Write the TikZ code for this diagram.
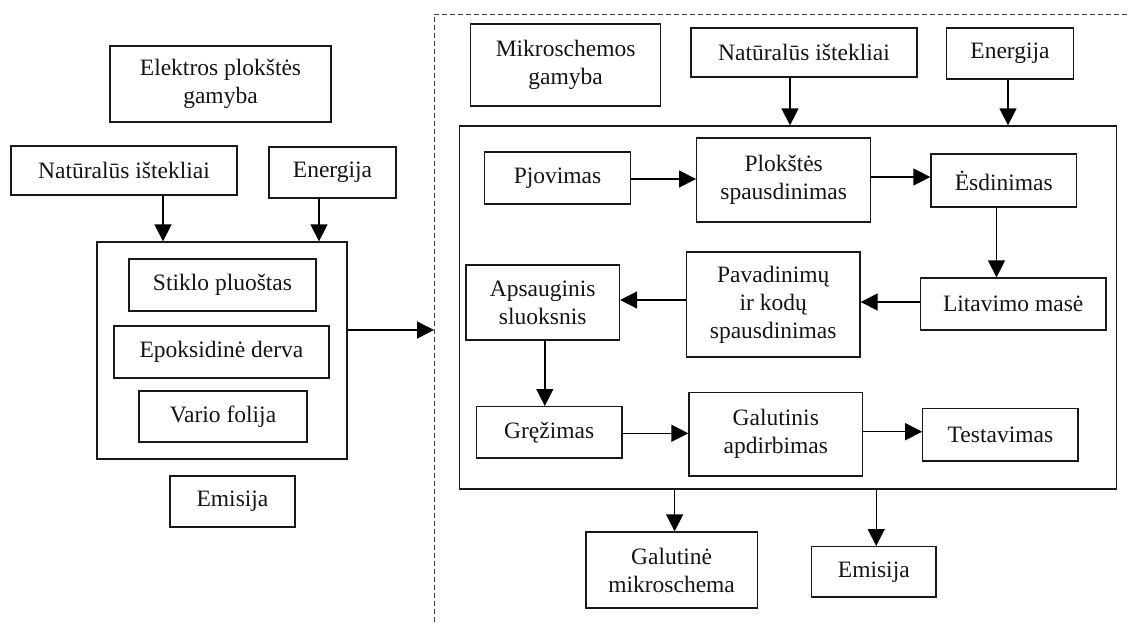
\documentclass[tikz,border=0pt]{standalone}
\usepackage{fontspec}
\setmainfont{Liberation Serif}
\usetikzlibrary{arrows.meta}
\begin{document}
\begin{tikzpicture}[x=1pt,y=-1pt,
  box/.style={draw=black!90,line width=1.3pt,align=center,inner sep=0pt,text=black!92,
    font=\fontsize{23.5}{28}\selectfont},
  arr/.style={draw=black,line width=1.4pt,-{Triangle[length=17pt,width=17pt]}},
  dline/.style={draw=black!75,line width=1pt,dash pattern=on 5pt off 3pt}]
\useasboundingbox (0,0) rectangle (1129,622);
% dashed frame
\coordinate (dtop) at (434,14);
\coordinate (dbot) at (434,622);
\coordinate (dright) at (1129,14);
\draw[dline] (dbot) -- (dtop) -- (dright);
% left part
\node[box,minimum width=221,minimum height=76] (elek) at (220.5,84) {Elektros plokštės\\gamyba};
\node[box,minimum width=226,minimum height=49] (nat1) at (124,170.5) {Natūralūs ištekliai};
\node[box,minimum width=127,minimum height=51] (en1) at (332.5,172.5) {Energija};
\node[box,minimum width=250,minimum height=217] (cont1) at (222,350.5) {};
\node[box,minimum width=187,minimum height=52] (stik) at (222.5,285) {Stiklo pluoštas};
\node[box,minimum width=215,minimum height=52] (epo) at (221.5,352) {Epoksidinė derva};
\node[box,minimum width=168,minimum height=51] (vario) at (223,416.5) {Vario folija};
\node[box,minimum width=125,minimum height=51] (emi1) at (232.5,501.5) {Emisija};
\coordinate (xa) at (163,0);
\coordinate (xb) at (319,0);
\coordinate (yc) at (0,330);
\draw[arr] (nat1.south -| xa) -- (cont1.north -| xa);
\draw[arr] (en1.south -| xb) -- (cont1.north -| xb);
\draw[arr] (cont1.east |- yc) -- (dtop |- yc);
% right part
\node[box,minimum width=190,minimum height=82] (mik) at (565.6,65) {Mikroschemos\\gamyba};
\node[box,minimum width=226,minimum height=49] (nat2) at (804,52.5) {Natūralūs ištekliai};
\node[box,minimum width=127,minimum height=51] (en2) at (1010,53.5) {Energija};
\node[box,minimum width=657.5,minimum height=363] (cont2) at (788,307.5) {};
\node[box,minimum width=145.6,minimum height=52] (pjo) at (557.5,178) {Pjovimas};
\node[box,minimum width=174,minimum height=84] (plo) at (783.7,180) {Plokštės\\spausdinimas};
\node[box,minimum width=145.6,minimum height=53] (esd) at (1003.8,180.5) {Ėsdinimas};
\node[box,minimum width=185.5,minimum height=52] (lit) at (1013.2,304) {Litavimo masė};
\node[box,minimum width=173.7,minimum height=105] (pav) at (773.2,304.5) {Pavadinimų\\ir kodų\\spausdinimas};
\node[box,minimum width=153.4,minimum height=75] (aps) at (542.7,302.5) {Apsauginis\\sluoksnis};
\node[box,minimum width=145.5,minimum height=51.3] (gre) at (549.2,432.3) {Gręžimas};
\node[box,minimum width=173.7,minimum height=83.3] (gal) at (775.8,434.3) {Galutinis\\apdirbimas};
\node[box,minimum width=155.2,minimum height=52.3] (tes) at (1000.4,434.8) {Testavimas};
\node[box,minimum width=171.3,minimum height=76] (galm) at (671.6,570) {Galutinė\\mikroschema};
\node[box,minimum width=124.4,minimum height=50.3] (emi2) at (873.8,571.8) {Emisija};
\coordinate (x1) at (790,0);
\coordinate (x2) at (1008,0);
\coordinate (x3) at (996.5,0);
\coordinate (x4) at (544.8,0);
\coordinate (x5) at (674.6,0);
\coordinate (x6) at (876.2,0);
\coordinate (y1) at (0,179);
\coordinate (y2) at (0,177);
\coordinate (y3) at (0,302);
\coordinate (y4) at (0,300);
\coordinate (y5) at (0,433.3);
\coordinate (y6) at (0,431.7);
\draw[arr] (nat2.south -| x1) -- (cont2.north -| x1);
\draw[arr] (en2.south -| x2) -- (cont2.north -| x2);
\draw[arr] (pjo.east |- y1) -- (plo.west |- y1);
\draw[arr] (plo.east |- y2) -- (esd.west |- y2);
\draw[arr] (esd.south -| x3) -- (lit.north -| x3);
\draw[arr] (lit.west |- y3) -- (pav.east |- y3);
\draw[arr] (pav.west |- y4) -- (aps.east |- y4);
\draw[arr] (aps.south -| x4) -- (gre.north -| x4);
\draw[arr] (gre.east |- y5) -- (gal.west |- y5);
\draw[arr] (gal.east |- y6) -- (tes.west |- y6);
\draw[arr] (cont2.south -| x5) -- (galm.north -| x5);
\draw[arr] (cont2.south -| x6) -- (emi2.north -| x6);
\end{tikzpicture}
\end{document}
